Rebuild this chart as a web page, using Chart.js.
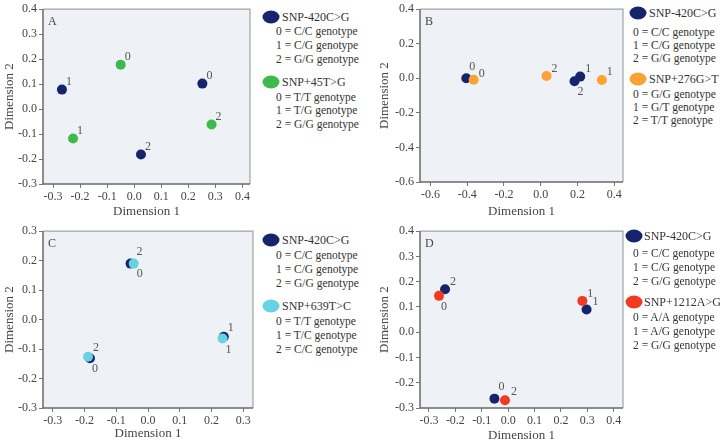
<!DOCTYPE html>
<html><head><meta charset="utf-8">
<script src="https://cdn.jsdelivr.net/npm/chart.js@4"></script>
<style>
body{margin:0;background:#fff;width:720px;height:444px;position:relative;overflow:hidden;font-family:"Liberation Serif","Times New Roman",serif;}
canvas{position:absolute;}
.lt{position:absolute;color:#333;white-space:nowrap;line-height:1;transform:translateY(-50%);}
.ell{position:absolute;width:17px;height:13px;border-radius:50%;transform:translate(-50%,-50%);}
</style></head><body>
<script>
// ---------- data ----------
const genotypeLabels = ['0', '1', '2'];

// Panel A : SNP-420C>G vs SNP+45T>G
const aSnp420X = [0.252, -0.267, 0.025];
const aSnp420Y = [0.102, 0.078, -0.182];
const aSnp45X  = [-0.050, -0.226, 0.286];
const aSnp45Y  = [0.178, -0.118, -0.062];
const aXTicks = [-0.3, -0.2, -0.1, 0.0, 0.1, 0.2, 0.3, 0.4];
const aYTicks = [-0.3, -0.2, -0.1, 0.0, 0.1, 0.2, 0.3, 0.4];

// Panel B : SNP-420C>G vs SNP+276G>T
const bSnp420X = [-0.405, 0.215, 0.184];
const bSnp420Y = [0.000, 0.010, -0.017];
const bSnp276X = [-0.365, 0.333, 0.032];
const bSnp276Y = [-0.008, -0.010, 0.013];
const bXTicks = [-0.6, -0.4, -0.2, 0.0, 0.2, 0.4];
const bYTicks = [-0.6, -0.4, -0.2, 0.0, 0.2, 0.4];

// Panel C : SNP-420C>G vs SNP+639T>C
const cSnp420X = [-0.183, 0.239, -0.055];
const cSnp420Y = [-0.131, -0.058, 0.190];
const cSnp639X = [-0.045, 0.235, -0.189];
const cSnp639Y = [0.190, -0.064, -0.126];
const cXTicks = [-0.3, -0.2, -0.1, 0.0, 0.1, 0.2, 0.3];
const cYTicks = [-0.3, -0.2, -0.1, 0.0, 0.1, 0.2, 0.3];

// Panel D : SNP-420C>G vs SNP+1212A>G
const dSnp420X = [-0.052, 0.297, -0.239];
const dSnp420Y = [-0.263, 0.090, 0.170];
const dSnp1212X = [-0.262, 0.281, -0.012];
const dSnp1212Y = [0.144, 0.124, -0.269];
const dXTicks = [-0.3, -0.2, -0.1, 0.0, 0.1, 0.2, 0.3, 0.4];
const dYTicks = [-0.3, -0.2, -0.1, 0.0, 0.1, 0.2, 0.3, 0.4];

// legend texts
const snp420Title = 'SNP-420C>G';
const snp420Lines = ['0 = C/C genotype', '1 = C/G genotype', '2 = G/G genotype'];
const snp45Title = 'SNP+45T>G';
const snp45Lines = ['0 = T/T genotype', '1 = T/G genotype', '2 = G/G genotype'];
const snp276Title = 'SNP+276G>T';
const snp276Lines = ['0 = G/G genotype', '1 = G/T genotype', '2 = T/T genotype'];
const snp639Title = 'SNP+639T>C';
const snp639Lines = ['0 = T/T genotype', '1 = T/C genotype', '2 = C/C genotype'];
const snp1212Title = 'SNP+1212A>G';
const snp1212Lines = ['0 = A/A genotype', '1 = A/G genotype', '2 = G/G genotype'];

// ---------- styles / layout ----------
const NAVY = '#16256b', GREEN = '#3dba4b', ORANGE = '#f8a333', CYAN = '#66d2e2', RED = '#f23a22';
const FONT = '"Liberation Serif", "Times New Roman", serif';
Chart.defaults.font.family = FONT;
Chart.defaults.color = '#444';

const panels = [
  { letter:'A', left:0, top:0, yW:43, plotTop:7, plotRight:252, plotBottom:184, xH:37,
    xMin:-0.337, xMax:0.428, yMin:-0.3, yMax:0.4, xTicks:aXTicks, yTicks:aYTicks,
    sets:[[aSnp420X,aSnp420Y,NAVY],[aSnp45X,aSnp45Y,GREEN]],
    offsets:[[[7,-8],[7,-8],[7,-8]],[[7,-8],[7,-8],[7,-8]]],
    legend:{ell:271, tx:282, lx:276, t1:17, l1:32, t2:82, l2:97.5, sp:13.8,
      items:[[NAVY,snp420Title,snp420Lines],[GREEN,snp45Title,snp45Lines]]} },
  { letter:'B', left:375, top:0, yW:45, plotTop:8, plotRight:625, plotBottom:182, xH:39,
    xMin:-0.657, xMax:0.448, yMin:-0.6, yMax:0.4, xTicks:bXTicks, yTicks:bYTicks,
    sets:[[bSnp420X,bSnp420Y,NAVY],[bSnp276X,bSnp276Y,ORANGE]],
    offsets:[[[6,-11],[8,-8],[6,11]],[[8,-6],[8,-8],[8,-7]]],
    legend:{ell:638, tx:649, lx:633, t1:13, l1:32.5, t2:79, l2:95, sp:13,
      items:[[NAVY,snp420Title,snp420Lines],[ORANGE,snp276Title,snp276Lines]]} },
  { letter:'C', left:0, top:222, yW:43, plotTop:231, plotRight:255, plotBottom:408, xH:35,
    xMin:-0.331, xMax:0.331, yMin:-0.3, yMax:0.3, xTicks:cXTicks, yTicks:cYTicks,
    sets:[[cSnp420X,cSnp420Y,NAVY],[cSnp639X,cSnp639Y,CYAN]],
    offsets:[[[5,11],[7,-9],[9,-12]],[[6,10],[6,11],[8,-9]]],
    legend:{ell:271, tx:282, lx:276, t1:240, l1:256, t2:306, l2:322, sp:13.8,
      items:[[NAVY,snp420Title,snp420Lines],[CYAN,snp639Title,snp639Lines]]} },
  { letter:'D', left:375, top:222, yW:45, plotTop:230, plotRight:625, plotBottom:408, xH:37,
    xMin:-0.334, xMax:0.435, yMin:-0.3, yMax:0.4, xTicks:dXTicks, yTicks:dYTicks,
    sets:[[dSnp420X,dSnp420Y,NAVY],[dSnp1212X,dSnp1212Y,RED]],
    offsets:[[[7,-12],[9,-8],[8,-7]],[[5,11],[8,-7],[9,-8]]],
    legend:{ell:634, tx:644, lx:633, t1:236, l1:254, t2:302, l2:318, sp:13.8,
      items:[[NAVY,snp420Title,snp420Lines],[RED,snp1212Title,snp1212Lines]]} }
];

const decoPlugin = {
  id: 'deco',
  beforeDatasetsDraw(chart, args, opts) {
    const { ctx, chartArea: { left, top, right, bottom } } = chart;
    ctx.save();
    ctx.fillStyle = '#eef1f5';
    ctx.fillRect(left, top, right - left, bottom - top);
    ctx.strokeStyle = '#a3a3a3'; ctx.lineWidth = 1.2;
    ctx.beginPath(); ctx.moveTo(left, top); ctx.lineTo(right, top); ctx.lineTo(right, bottom); ctx.stroke();
    ctx.strokeStyle = '#6a6a6a'; ctx.lineWidth = 1.5;
    ctx.beginPath(); ctx.moveTo(left, top); ctx.lineTo(left, bottom); ctx.lineTo(right, bottom); ctx.stroke();
    ctx.fillStyle = '#444'; ctx.font = '12px ' + FONT; ctx.textBaseline = 'middle'; ctx.textAlign = 'left';
    ctx.fillText(opts.letter, left + 5, top + 13);
    ctx.restore();
  },
  afterDatasetsDraw(chart, args, opts) {
    const ctx = chart.ctx;
    ctx.save();
    ctx.fillStyle = '#555'; ctx.font = '12px ' + FONT; ctx.textAlign = 'center'; ctx.textBaseline = 'middle';
    chart.data.datasets.forEach((ds, di) => {
      const meta = chart.getDatasetMeta(di);
      meta.data.forEach((pt, i) => {
        const off = opts.offsets[di][i];
        ctx.fillText(genotypeLabels[i], pt.x + off[0], pt.y + off[1]);
      });
    });
    ctx.restore();
  }
};

function fixedTicks(arr) { return ax => { ax.ticks = arr.map(v => ({ value: v })); }; }

panels.forEach(p => {
  const cv = document.createElement('canvas');
  const w = p.plotRight - p.left + 3;
  const h = p.plotBottom - p.top + p.xH;
  cv.width = w; cv.height = h;
  cv.style.left = p.left + 'px'; cv.style.top = p.top + 'px';
  cv.style.width = w + 'px'; cv.style.height = h + 'px';
  document.body.appendChild(cv);
  const datasets = p.sets.map((s, i) => ({
    data: s[0].map((x, k) => ({ x: x, y: s[1][k] })),
    backgroundColor: s[2], borderWidth: 0, pointRadius: 5, pointHoverRadius: 5,
    order: i === 0 ? 1 : 0
  }));
  new Chart(cv, {
    type: 'scatter',
    data: { datasets },
    options: {
      responsive: false, animation: false, devicePixelRatio: 1,
      layout: { padding: { top: p.plotTop - p.top, right: 3, left: 0, bottom: 0 } },
      plugins: { legend: { display: false }, tooltip: { enabled: false }, deco: { letter: p.letter, offsets: p.offsets } },
      scales: {
        x: { type: 'linear', min: p.xMin, max: p.xMax, afterBuildTicks: fixedTicks(p.xTicks),
          ticks: { callback: v => v.toFixed(1), font: { size: 12 }, color: '#444', padding: 2, maxRotation: 0, autoSkip: false },
          grid: { drawOnChartArea: false, drawTicks: true, tickLength: 4, color: '#777' },
          border: { display: false },
          title: { display: true, text: 'Dimension 1', font: { size: 13 }, color: '#444', padding: { top: 0, bottom: 2 } },
          afterFit: s => { s.height = p.xH; } },
        y: { type: 'linear', min: p.yMin, max: p.yMax, afterBuildTicks: fixedTicks(p.yTicks),
          ticks: { callback: v => v.toFixed(1), font: { size: 12 }, color: '#444', padding: 2, autoSkip: false },
          grid: { drawOnChartArea: false, drawTicks: true, tickLength: 4, color: '#777' },
          border: { display: false },
          title: { display: true, text: 'Dimension 2', font: { size: 13 }, color: '#444', padding: { top: 2, bottom: 0 } },
          afterFit: s => { s.width = p.yW; } }
      }
    },
    plugins: [decoPlugin]
  });
  // legend (HTML text)
  const L = p.legend;
  L.items.forEach((it, j) => {
    const ty = j === 0 ? L.t1 : L.t2;
    const ly = j === 0 ? L.l1 : L.l2;
    const e = document.createElement('div');
    e.className = 'ell'; e.style.left = L.ell + 'px'; e.style.top = ty + 'px'; e.style.background = it[0];
    document.body.appendChild(e);
    const t = document.createElement('div');
    t.className = 'lt'; t.style.left = L.tx + 'px'; t.style.top = ty + 'px'; t.style.fontSize = '12px';
    t.textContent = it[1];
    document.body.appendChild(t);
    it[2].forEach((line, k) => {
      const d = document.createElement('div');
      d.className = 'lt'; d.style.left = L.lx + 'px'; d.style.top = (ly + k * L.sp) + 'px'; d.style.fontSize = '11.5px';
      d.textContent = line;
      document.body.appendChild(d);
    });
  });
});
</script>
</body></html>
